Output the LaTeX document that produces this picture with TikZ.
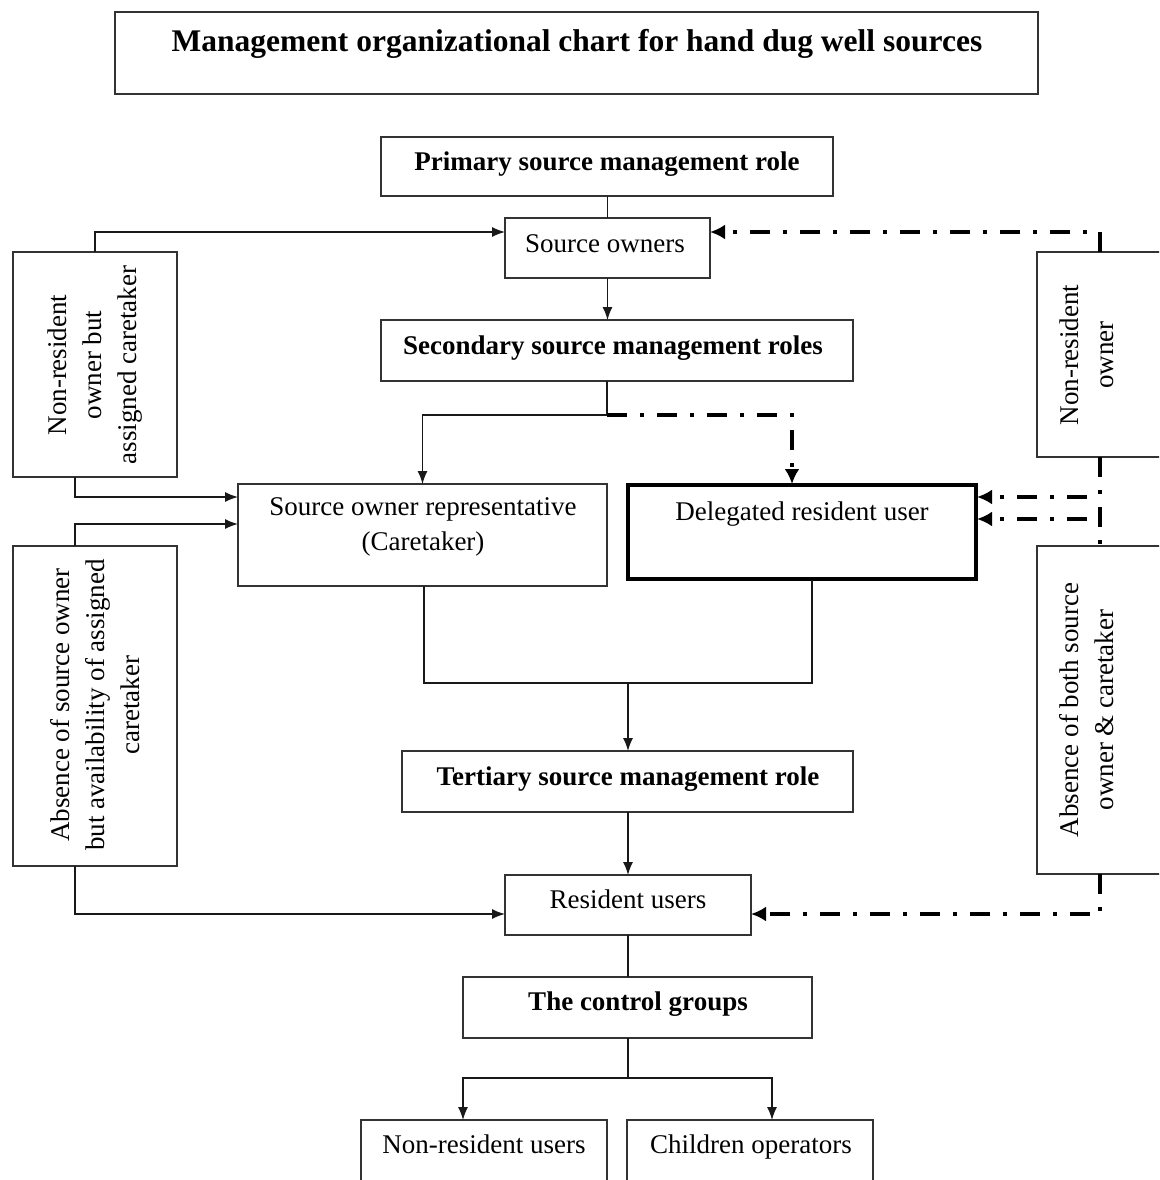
\documentclass[tikz,border=0pt]{standalone}
\usepackage{fontspec}
\setmainfont{Liberation Serif}
\usetikzlibrary{arrows.meta,calc}
\newcommand\mybox[5]{\node[box, minimum width={#4-#2}, minimum height={#5-#3}] (#1) at ({(#2+#4)/2},{(#3+#5)/2}) {};}
\begin{document}
\begin{tikzpicture}[x=1pt,y=-1pt,
  box/.style={draw=black!80, line width=1.3pt, inner sep=0pt, outer sep=0pt},
  txt/.style={font=\fontsize{27}{35}\selectfont, inner sep=0pt, align=center},
  btxt/.style={txt, font=\fontsize{27}{35}\selectfont\bfseries},
  one/.style={text height=18pt, text depth=5pt},
  ln/.style={line width=1.4pt, draw=black!90},
  arr/.style={ln, -{Latex[length=13pt,width=10pt]}},
  dd/.style={line width=3.5pt, dash pattern=on 20pt off 13pt on 4pt off 13pt, -{Latex[length=15pt,width=15pt]}},
  ddl/.style={line width=3.5pt, dash pattern=on 20pt off 13pt on 4pt off 13pt},
]
\useasboundingbox (0,0) rectangle (1159,1180);
\fill[white] (0,0) rectangle (1159,1180);
\clip (0,0) rectangle (1159,1180);

% boxes
\mybox{title}{115}{12}{1038}{94}
\mybox{prim}{381}{137}{833}{196}
\mybox{so}{505}{218}{710}{278}
\mybox{sec}{381}{320}{853}{381}
\mybox{lb1}{13}{252}{177}{477}
\mybox{lb2}{13}{546}{177}{866}
\mybox{rb1}{1037}{252}{1163}{457}
\mybox{rb2}{1037}{546}{1163}{874}
\mybox{care}{238}{484}{607}{586}
\node[draw, line width=3.5pt, inner sep=0pt, outer sep=0pt, minimum width=348, minimum height=94] (del) at (802,532) {};
\mybox{tert}{402}{751}{853}{812}
\mybox{res}{505}{875}{751}{935}
\mybox{cg}{463}{977}{812}{1038}
\mybox{nru}{361}{1120}{607}{1210}
\mybox{co}{627}{1120}{873}{1210}

% texts
\node[btxt, one, font=\fontsize{31.5}{38}\selectfont\bfseries] (tTitle) at (577,45) {Management organizational chart for hand dug well sources};
\node[btxt, one] (tPrim) at (607,164) {Primary source management role};
\node[txt, one] (tSO) at (605,246) {Source owners};
\node[btxt, one] (tSec) at (613,348) {Secondary source management roles};
\node[txt] (tCare) at (423,527) {Source owner representative\\(Caretaker)};
\node[txt, one] (tDel) at (802,514) {Delegated resident user};
\node[btxt, one] (tTert) at (628,779) {Tertiary source management role};
\node[txt, one] (tRes) at (628,902) {Resident users};
\node[btxt, one] (tCG) at (638,1004) {The control groups};
\node[txt, one] (tNRU) at (484,1147) {Non-resident users};
\node[txt, one] (tCO) at (751,1147) {Children operators};
\node[txt, rotate=90] (tL1) at (95,365) {Non-resident\\owner but\\assigned caretaker};
\node[txt, rotate=90] (tL2) at (95,705) {Absence of source owner\\but availability of assigned\\caretaker};
\node[txt, rotate=90] (tR1) at (1087,355) {Non-resident\\owner};
\node[txt, rotate=90] (tR2) at (1087,710) {Absence of both source\\owner \& caretaker};

% junction coordinates
\coordinate (sj) at (607,415);
\coordinate (mj) at (628,683);
\coordinate (cj) at (628,1078);
\coordinate (soL) at (505,232);
\coordinate (soR) at (710,232);
\coordinate (careL1) at (238,497);
\coordinate (careL2) at (238,524);
\coordinate (resL) at (505,914);
\coordinate (resR) at (751,914);
\coordinate (delR1) at (977,497);
\coordinate (delR2) at (977,519);
\coordinate (delT) at (792,484);
\coordinate (delB) at (812,580);
\coordinate (careB) at (424,586);

% solid connectors
\draw[ln] (prim.south -| so.south) -- (so.north);
\draw[arr] (so.south) -- (so.south |- sec.north);
\draw[ln] (sec.south -| sj) -- (sj);
\draw[arr] (sj) -| (care.north);
\draw[arr] (lb1.north) |- (soL);
\draw[arr] ($(lb1.south)+(-20,0)$) |- (careL1);
\draw[arr] ($(lb2.north)+(-20,0)$) |- (careL2);
\draw[arr] ($(lb2.south)+(-20,0)$) |- (resL);
\draw[ln] (careB) |- (mj) -| (delB);
\draw[arr] (mj) -- (mj |- tert.north);
\draw[arr] (tert.south -| res.north) -- (res.north);
\draw[ln] (res.south) -- (res.south |- cg.north);
\draw[ln] (res.south |- cg.south) -- (cj);
\draw[arr] (cj) -| (nru.north -| 463,0);
\draw[arr] (cj) -| (co.north -| 772,0);

% dash-dot connectors
\draw[dd] (sj) -| (delT);
\draw[dd] (rb1.north) |- (soR);
\draw[ddl] (rb1.south) -- (rb2.north);
\draw[dd] (1087,497) -- (delR1);
\draw[dd] (1087,519) -- (delR2);
\draw[dd] (rb2.south) |- (resR);
\end{tikzpicture}
\end{document}
